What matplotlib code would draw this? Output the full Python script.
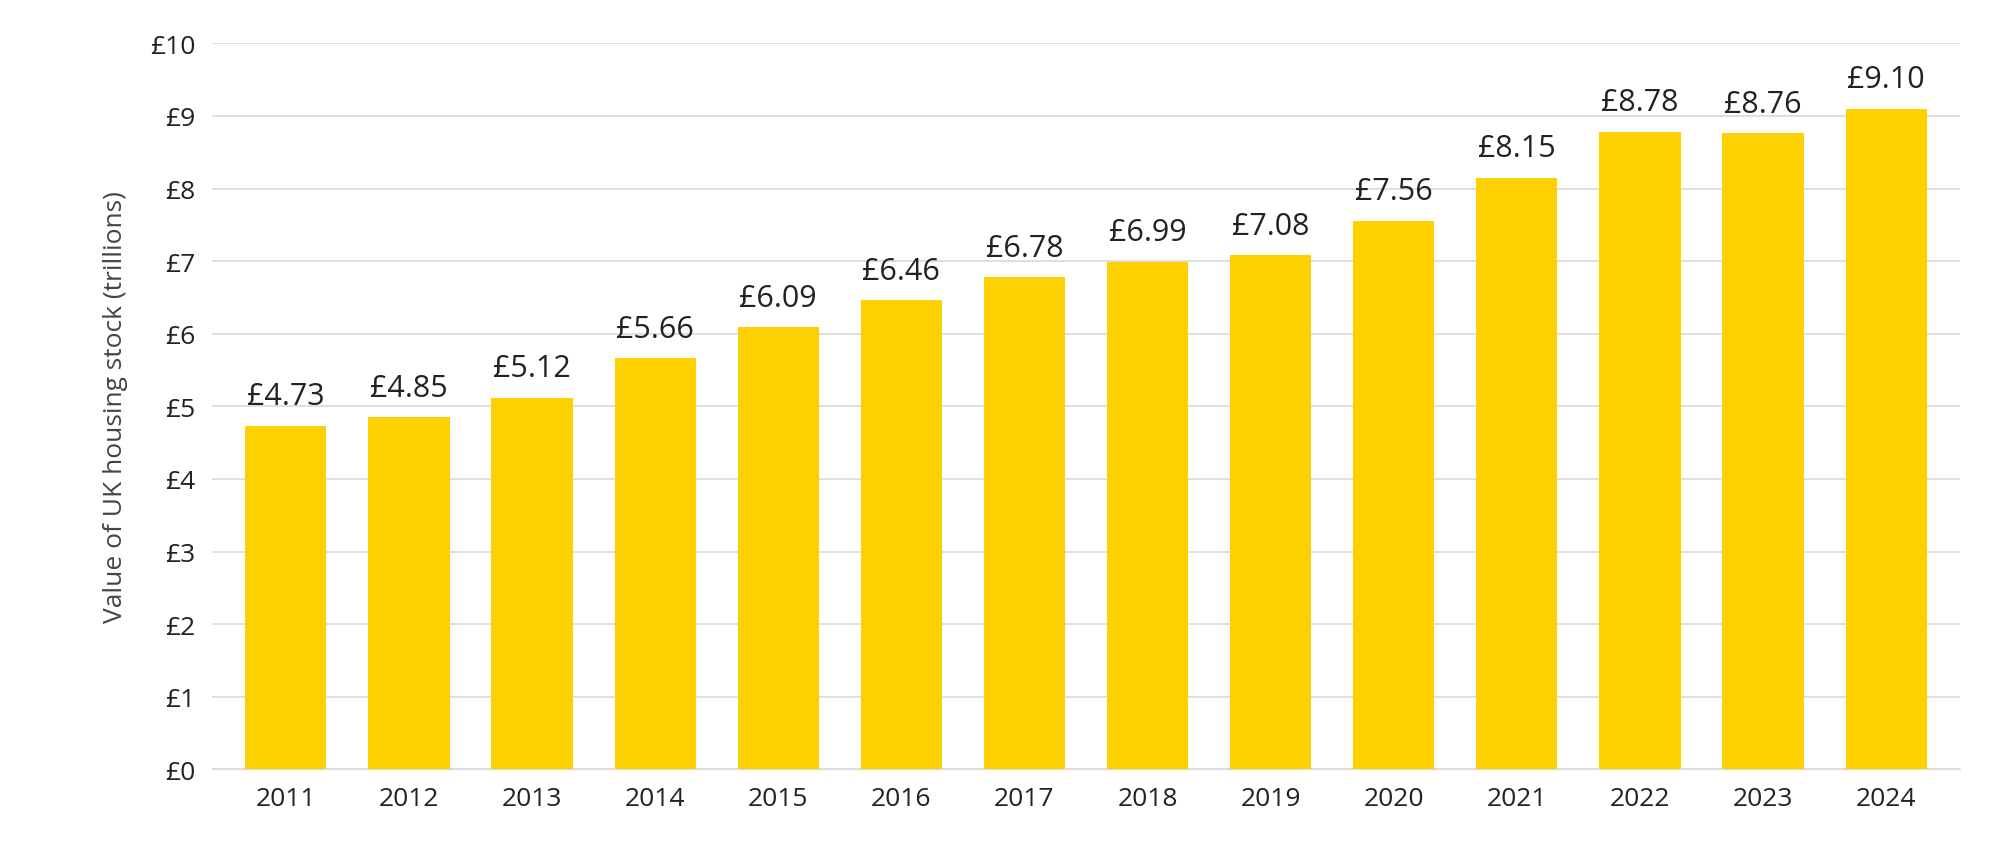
import matplotlib
matplotlib.use("Agg")
import matplotlib.pyplot as plt

years = ["2011", "2012", "2013", "2014", "2015", "2016", "2017",
         "2018", "2019", "2020", "2021", "2022", "2023", "2024"]
values = [4.73, 4.85, 5.12, 5.66, 6.09, 6.46, 6.78,
          6.99, 7.08, 7.56, 8.15, 8.78, 8.76, 9.10]

plt.rcParams['font.family'] = ['Open Sans', 'DejaVu Sans']

fig = plt.figure(figsize=(20, 8.54), dpi=100)
ax = fig.add_axes([0.106, 0.098, 0.874, 0.85])

bars = ax.bar(years, values, width=0.66, color="#FFD000", zorder=3)
for b, v in zip(bars, values):
    ax.text(b.get_x() + b.get_width() / 2, v + 0.2, "£%.2f" % v,
            ha="center", va="bottom", fontsize=22, color="#222222")

ax.set_ylim(0, 10)
ax.set_xlim(-0.6, len(years) - 0.4)
ax.set_yticks(range(0, 11))
ax.set_yticklabels(["£%d" % i for i in range(0, 11)])
ax.grid(axis="y", color="#d9d9d9", linewidth=1.2, zorder=0)
for s in ["top", "right", "left"]:
    ax.spines[s].set_visible(False)
ax.spines["bottom"].set_color("#d9d9d9")
ax.tick_params(axis="both", length=0, labelsize=19, colors="#222222", pad=12)
ax.set_ylabel("Value of UK housing stock (trillions)", fontsize=19,
              color="#444444", labelpad=16)

fig.savefig("out.png")
